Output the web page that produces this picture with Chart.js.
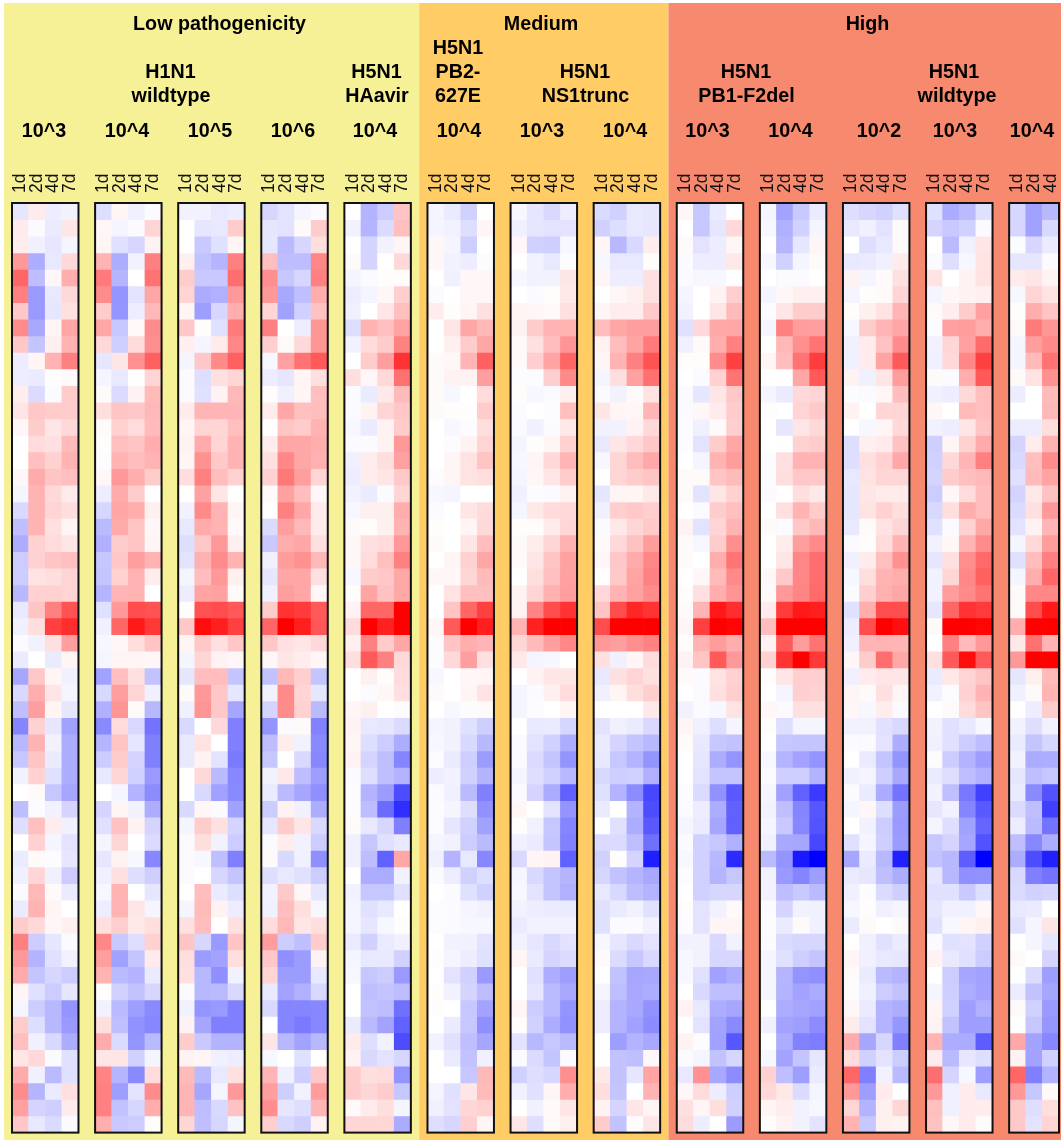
<!DOCTYPE html>
<html>
<head>
<meta charset="utf-8">
<style>html,body{margin:0;padding:0;background:#fff}canvas{position:absolute;left:0;top:0}</style>
<script src="https://cdn.jsdelivr.net/npm/chart.js@4/dist/chart.umd.min.js"></script>
</head>
<body>
<canvas id="c" width="1061" height="1140"></canvas>
<script>
// Cell values in tenths of full colour saturation: -10 full blue, 0 white, +10 full red.
const timepoints = ["1d","2d","4d","7d"];
const timepointsLast = ["1d","2d","4d"];
const rowCount = 56;

const H1N1_wt_1e3 = [[-1,.8,-.7,-.5],[.8,-.2,-.8,1],[.7,-.6,-1,-.4],[4,-3.2,-.9,1.5],[6,-2.6,.3,3.2],[5,-4,-.9,1.5],[2.2,-4,-1,1.2],[4.5,-3.4,.4,3.5],[2.2,-2.3,.6,3],[-.7,.4,3,5],[-.7,-.8,.1,.2],[.7,-1.4,-.2,2],[1,2.2,2,2],[.3,2,1,1.5],[0,1.4,1.2,2.7],[0,2.5,1.8,3],[.3,3.3,2.3,2.5],[-.4,3,1.5,.8],[-1.5,3,1.7,1.3],[-2.5,3,1.2,.4],[-3.2,1.8,1.4,1],[-2,1.8,2.3,2.5],[-2,1.1,1.3,1.7],[-2.8,1.8,1.8,1.7],[-.9,2.3,5,6.8],[-.6,1.3,7.5,8.2],[-.2,-.5,1.2,3.8],[-.8,0,-.8,.4],[-3.5,2.2,.4,-.6],[-1.5,3.2,1,-.4],[-2.5,3.8,.4,-1],[-4.8,1.8,-1,-3.7],[-2.8,3,-.5,-3.2],[-2.2,2.3,-.8,-3.2],[-.5,1.8,-1.2,-3.2],[0,.2,-2.2,-3.5],[-2.6,-.1,-.5,-1.7],[-1.3,2.5,.7,-.6],[0,1.8,-.4,-1.1],[-.8,.2,-.1,-1],[-.6,1.6,-.6,-2],[-.2,2.8,.2,-.8],[-.8,3,.4,0],[2,1.5,.3,.6],[5,-2,-1,-.2],[4,-3,-1.2,-.5],[3.3,-2.3,-1.6,-2],[.4,-1.2,-2,-1],[-.4,-2,-2.8,-4.2],[2,-1.3,-2.8,-4],[2.5,-.6,-1.5,-3.2],[1,1.5,-.2,-1.2],[3.3,-.6,-2.7,-1.2],[4.5,-2.9,-.8,1.2],[3.7,-1.7,-1.9,.8],[2.2,-.9,-1.4,-.2]];
const H1N1_wt_1e4 = [[-1.3,.4,-.6,-.2],[.3,-.4,-.2,1.7],[.4,-1.2,-1.6,.5],[3,-3.2,-.5,5],[5.2,-2.9,0,5.5],[4.5,-4.2,-1.1,3.5],[2,-4.1,-.7,2.8],[3.5,-2.2,.2,4.5],[1.5,-1.9,1.4,4.4],[-1,1,4.3,6.2],[-.4,-.9,0,1.7],[.2,-1.4,.5,2.7],[1.3,2.3,2.2,2.8],[.2,1.8,1.4,2.7],[.1,2.5,2.3,3.2],[-.1,3,2.6,3],[.3,4,3.2,2],[-.7,3.3,2,0],[-1.6,3.5,3.2,.6],[-2.7,3.3,2.3,.3],[-3.1,2,2.3,.4],[-2.2,2.2,3.8,3],[-2.3,1.8,3,.7],[-2.9,2.9,3,0],[-1.2,4,7,6.8],[-.6,6,9,7.8],[-.3,.3,1.3,2.3],[-.4,.4,.4,.3],[-3.7,2.5,1.2,-2.4],[-1.5,3.8,1.7,-.6],[-3.1,4.2,.2,-2.8],[-4.6,1.4,-1.5,-5.5],[-2.9,2.3,-1,-5],[-2,2,-1.7,-5],[-.9,1.6,-1.8,-4],[0,-.4,-3,-4.5],[-1.7,.4,-.5,-3.2],[-1.2,2.4,.5,-1.7],[-.4,1.6,0,-1.4],[-1,.5,-.3,-4.7],[-.6,1.2,-1.3,-1.9],[-.3,3,0,-1],[-.7,3,1,-.4],[1.3,1.9,.9,1.3],[4.7,-2.1,-1.3,1.8],[3.8,-3.7,-2.3,.8],[3,-2.7,-3,-.8],[.1,-1.8,-2.4,-1.6],[-.5,-2.7,-3.8,-4.6],[1.3,-2.5,-4.3,-4.7],[3.3,-1.4,-4.2,-2.7],[1,1,-1.8,-.4],[4.8,-2.9,-4.6,1.4],[5,-3.8,-1.1,4.5],[5,-2.4,-1.6,3.2],[3.2,-2.1,-2,.1]];
const H1N1_wt_1e5 = [[-.5,-.5,-.9,-.7],[0,-1,-.9,2],[0,-2.1,-1.2,.4],[.6,-2.4,-2.9,5],[2,-2.1,-2.1,5.7],[1.7,-3.3,-3.1,4],[.4,-3.8,-1.6,3.2],[2.2,.1,-1.2,5.2],[.6,-.4,.8,4.7],[-.4,2.2,4.6,6.2],[-.2,-1.3,1.2,1.6],[-.2,-1.2,.5,2.8],[.8,2.9,2.9,2.9],[.4,1.7,1.6,2.5],[.5,3.3,1.7,3],[.4,4.3,2.1,3],[1.3,5,2.6,1.8],[0,3.7,1,0],[-.5,4.6,3,.4],[-.9,3.3,3,.2],[-1.3,2.2,4,.6],[-1.1,3.1,4.5,3],[-.4,2.6,4,.6],[-.7,3.6,3.7,.2],[.1,6.8,7,6.5],[2.2,9.5,8.8,7.5],[.4,2.2,1.2,2.2],[-.4,1.6,.5,.3],[-1,2.6,2.6,-2.3],[.2,4,2.2,-1],[-.6,4.2,2.2,-3.5],[-1.5,0,1.5,-5],[-.9,1.1,0,-5],[-.9,.5,-1.1,-5.2],[0,1.5,-2.7,-4.7],[0,-1.5,-3.7,-4.6],[-1.5,.3,-.2,-3.7],[-.4,2,1.2,-1.7],[-.2,1.3,-.5,-2],[-.2,-.3,-2.5,-5],[-.2,0,-1.6,-2.3],[0,2.6,-.8,-1.3],[-.4,2.7,.5,-.7],[1.2,2.6,0,1.2],[2.3,-1.6,-4,2.3],[1.3,-3.9,-3.6,1.3],[1.2,-2.8,-4.4,-.5],[-.2,-2.8,-2.7,-1.5],[-.5,-4.2,-4,-5],[.5,-3.5,-5,-5],[2,-2.1,-3,-3],[.5,.4,-.6,-.7],[2.7,-2.7,-.9,1.2],[2.9,-3.5,-.4,4],[2.9,-2.6,-1.5,2.4],[1.6,-2.5,-1.6,-.4]];
const H1N1_wt_1e6 = [[-1.6,-1.1,-.4,-.2],[-1,-1.1,.2,2],[-1,-2.7,-1.6,1.3],[2.5,-2.6,-2.6,4.7],[4.4,-2.2,-1.6,5],[4,-3.4,-2.5,3.2],[1.6,-3.7,-1.8,2.4],[5,0,-.7,4.1],[1.9,.2,1.5,4.2],[-.3,3.7,5.5,6.5],[-.7,-1,.4,1.2],[.1,-.6,.4,2.5],[.7,3.5,2.5,2.6],[0,2.3,2,3],[.7,3.5,3.5,3.2],[1.2,4.7,3.5,3.1],[1.8,5.3,3.8,1.7],[.2,3.7,2.6,.3],[0,5,3.5,.8],[-1.4,3.8,2.8,.8],[-2.1,3.2,3.5,1.2],[-.6,3.9,4.3,2.8],[-1,3.5,3.5,1.2],[-.6,3.8,3.5,.3],[2,8,7.7,6.5],[6,10,8.8,6.6],[2.2,1.2,1,1.5],[.3,1,.7,.3],[-2.4,2.8,1.9,-2.3],[-.5,4.6,1.7,-1],[-1.7,4.5,1.8,-2.7],[-4.2,-.2,.2,-4.9],[-2.6,.7,-.5,-4.6],[-2.2,0,-1.5,-4.7],[-.5,.9,-2.6,-3.8],[-.8,-2.7,-3.5,-4.4],[-2,.5,-.6,-3.2],[-1,2,1,-1.5],[-.2,.7,-.5,-2],[.2,-1.5,-.6,-4.4],[-1.3,-.9,-1.2,-2],[-.5,2.1,.3,-1],[-.6,2.6,1.3,-.3],[1.4,2.8,1,1.3],[3.9,-2,-2.5,2],[2.2,-4.4,-3.9,.5],[1.7,-3.9,-3.9,-.9],[-.9,-3.6,-3.1,-1.5],[-1.5,-4.8,-4.8,-4.7],[0,-4.8,-5.2,-4.7],[1,-2.8,-3.6,-2.8],[-.3,0,-1.2,0],[2.9,-.6,-1.9,2.2],[3.8,-1.9,-.5,3.9],[4.4,-1,-1.3,2.9],[1.9,-1.5,-1.9,.5]];
const H5N1_HAavir_1e4 = [[0,-3,-2,2.3],[-.5,-2.9,-1.4,2.5],[0,-1.7,-.5,.4],[.2,-1.7,0,1.5],[-.4,-.2,.1,.1],[-.7,-.4,.3,1.9],[-.6,0,1,2.5],[-1.3,3,2.5,3.6],[-.5,1.4,2,4.9],[0,2,3.8,8],[1.3,.3,1.5,5.6],[-.2,-.8,.9,2.7],[-.2,.5,1.7,2.2],[-.3,-.8,.5,2],[-.2,-.2,.5,4],[-.6,.7,1.3,3.7],[-.7,.7,1,2.1],[-.5,-.8,-.2,1.6],[-.3,.6,.6,3.2],[.2,.1,.6,3],[.3,1.2,1.4,4],[.3,1.4,2.5,5],[-.3,2,2.2,3.4],[.1,3.6,2.4,3.4],[.5,6,6,10],[1.4,10,8.7,10],[.6,5,2,3.5],[1.3,6.5,5,1.5],[0,.6,.1,1.4],[0,-.2,.3,1.2],[.4,.6,0,-.1],[.5,-.9,-1,-1.4],[.4,-1.3,-2,-3.2],[.5,-1.7,-2.5,-4.8],[-.2,-1.3,-2.5,-3],[-.1,-3,-3.9,-7],[-.1,-2.6,-5.8,-8.2],[.2,-.9,-1.6,-5],[-.6,-2.2,-1.2,-.9],[-.6,-2.6,-6.2,3.5],[0,-3.2,-3.3,-.5],[-.5,-2.2,-2.2,-1.2],[-.4,-1.2,-.9,0],[-.4,-1,-.3,.1],[-.8,-1.8,-.8,-.6],[-.4,-.9,-.9,-1.8],[-.3,-2.2,-2,-4],[0,-2.5,-2.3,-2.6],[0,-2.4,-2.6,-5.6],[-.8,-2.7,-3.6,-6.2],[.8,-1.3,-.5,-7],[.5,-1.5,-1.1,-1.6],[2,1.3,1.4,-4.2],[2,1.6,2,-2.2],[.2,.8,1.3,-.4],[1.6,1.6,1.6,-3.3]];
const H5N1_PB2_1e4 = [[-.4,-.8,-1.8,0],[-.4,-.5,-1.3,.4],[.3,-.4,-1.9,0],[.3,-.5,-.7,-.1],[0,-.6,.3,.3],[-.2,0,.3,.3],[.7,.1,.4,1.2],[0,1,3.5,2.8],[0,.6,2,3.5],[.2,.3,2.9,6.2],[.2,.5,.5,3.8],[.2,-.3,0,1.4],[.2,.1,.1,2],[0,-.3,-.1,1.3],[0,-.1,.5,1.7],[0,.4,1.1,2.3],[-.1,.4,1.1,1.3],[-.3,-.4,0,0],[-.2,0,1,1.4],[.1,0,.4,1.5],[.2,0,1,2.6],[0,.4,1.8,3.5],[.3,.3,1.6,2.7],[0,1.1,2.5,2.5],[0,2.3,6,7.5],[.3,6.5,10,8.8],[-.1,2.3,3.2,2.9],[-.1,1.5,3.8,1.2],[-.3,0,.3,.4],[.2,0,.4,1.1],[0,-.3,-.1,.2],[-.4,-.5,-1.2,-1.9],[-.3,-.5,-1.5,-2.8],[-.1,-.8,-1.9,-3.9],[-.7,-.5,-1.8,-3],[-.2,-.6,-2.7,-5],[-.1,-.4,-1.3,-4.3],[-.1,-1,-1.8,-3.7],[-.4,-.5,-2,-2.7],[-.6,-3,-.9,-4.7],[-.2,-.7,-1.8,-1.3],[0,-.2,-1.2,-1.8],[-.1,-.2,-.4,-.5],[-.1,-.2,-.3,-.3],[0,-.5,-.6,-1.1],[.1,-.4,-.7,-1.2],[0,-1.1,-1.8,-4],[.1,-.5,-1.7,-2.6],[.1,0,-2.2,-3.6],[0,-.8,-2.2,-4.4],[-.5,-1.2,-2.5,-3.5],[0,-.8,-2.4,-.6],[0,0,-2.2,2.8],[-.4,-1.2,1,2.7],[-.6,-1.1,1.6,1.8],[-1.3,-1.6,1.9,.4]];
const H5N1_NS1_1e3 = [[-.3,-1,-1.5,-.7],[-.6,-1,-1.1,-1.1],[.3,-1.8,-1.9,-.3],[0,-.5,-.9,-.1],[-.3,-.5,-.5,1],[0,-.2,.1,.9],[.4,.3,.2,1.2],[.5,2,3,3],[.2,1.2,2.6,4.2],[.2,1.9,3.6,6],[-.1,-.1,1.9,4.6],[.1,-.3,-.2,.6],[-.2,0,-.1,2.5],[-.2,-.6,-.2,.9],[-.4,.1,.4,1.8],[-.3,.4,1.5,2.9],[-.4,.3,1,2],[-.6,-.1,-.2,.5],[-.4,.9,1.4,1.5],[.1,.1,.8,1.6],[.2,.7,1.6,3.1],[.2,1,2.3,3.7],[0,1.3,2.5,3.7],[.5,1.7,3.1,3.8],[.5,4.8,7,8],[3,8.7,10,10],[1.6,2.7,3.8,4.7],[.9,-.4,-.3,0],[0,.5,1,1],[-.4,-.2,.6,1.4],[-.4,-.1,0,.4],[0,-.9,-.8,-1.6],[-.2,-1.1,-1.8,-3.2],[-.2,-1.4,-2.3,-4.2],[-.4,-1.3,-1.8,-2.8],[-.2,-1.7,-3.3,-6.2],[.4,0,-1.1,-4.2],[.1,-.5,-2.2,-4.8],[-.6,-.8,-2.3,-4.9],[-1.5,.4,.5,-6.2],[-.4,-1.5,-2.3,-2.9],[-.3,-1.1,-2.3,-3.1],[-.5,-.7,-.8,-.8],[-.8,-.5,-.5,-.5],[-.5,-1,-1.5,-1.1],[.4,-.8,-1.7,-1.4],[0,-1.2,-3.2,-3.8],[0,-1,-2.7,-3.4],[.4,-2,-2.7,-4.2],[.1,-1.8,-3.2,-4.3],[-1.1,-2.8,-2.2,-2.7],[-.2,-1.4,-2.3,-.2],[-1.8,-1.3,-1.6,4.4],[-.6,-1.2,.4,3.2],[0,-.6,.2,1],[1,-1.3,.2,.6]];
const H5N1_NS1_1e4 = [[-1.4,-1.8,-.9,-1],[-1.8,-1.3,-.9,-1],[.4,-2.8,-1.5,.7],[-.3,-.9,-.9,.1],[.4,-.7,-.7,1.2],[0,.3,.6,1.2],[.4,.7,.7,2.1],[2.6,3.5,3.8,3.8],[.5,2.6,3.6,5.2],[.4,3,5,6.8],[-.4,1.3,3.7,5.6],[-.2,-.5,.2,1.1],[1,.4,.3,2.9],[-.5,-.5,.5,1.5],[-.9,1,1.5,2.2],[-.3,1.6,2.6,3.4],[0,1.6,2,2.3],[-1,.4,.4,.9],[-.6,1.9,2.1,1.9],[-.2,.9,1.6,2.1],[.2,1.5,2.4,3.9],[.3,2.2,3.3,4.7],[0,2.1,3.6,4.9],[1.5,3,3.7,4.5],[2.3,7,8.5,8],[7,10,10,10],[4,3.8,4.4,4.9],[1.2,-.6,.4,1.4],[-.9,1.2,1.7,1.2],[-.6,.4,1.3,1.9],[0,0,0,.9],[-1.1,-.6,-.8,-1.5],[-.8,-1.7,-2.3,-2.8],[-.9,-2.2,-3,-4.2],[-1.5,-1.9,-1.8,-3.1],[-1.2,-3,-4.5,-7.2],[-.8,0,-3,-7],[0,-1.2,-3.2,-6.5],[-1.4,-1.4,-2.5,-5.6],[-1.8,.1,-1.7,-8.8],[-1.6,-2.4,-2.9,-3.4],[-.9,-1.5,-2.6,-3],[-1.2,-.8,-.5,-1.2],[-1.2,-.2,-.2,-.5],[-.3,-1,-1.5,-1.1],[.2,-1.4,-2.2,-1.5],[0,-2.4,-3.5,-3.4],[-.4,-2.5,-3.4,-3.2],[-.7,-3,-3.4,-4.3],[-.7,-3,-3.7,-4.5],[0,-3.8,-3,-3.4],[0,-2.4,-2.5,.3],[.9,-2.4,-1,3.6],[1.3,-2.3,0,3],[.5,-1.7,1,.4],[2,-2.4,.1,1]];
const H5N1_PB1_1e3 = [[.3,-2.2,-.8,0],[0,-2.2,-1,1.5],[.2,-1.1,-.7,.3],[-.2,-.7,-.7,.9],[-.2,-.3,-.3,0],[-.4,0,.5,1.9],[-.5,0,1,2.7],[-1.2,1.5,3.4,3.5],[-.6,.2,3.2,5],[.1,.1,4.5,7.5],[0,-.2,1.8,5.5],[-.2,-1,1,2.2],[-.2,.3,.8,2],[-.1,-.6,.2,1.9],[-.1,-1.1,2,3.5],[0,-.4,3,3.9],[.2,.2,2.3,2.7],[.2,-1.1,1,1.8],[0,-.2,2,2.5],[.5,-1.1,1.7,3],[.2,-.3,2,4.4],[.2,0,3.2,5.4],[0,.3,2.7,4.6],[.1,1.2,3.2,4.2],[.2,3,9,8.2],[.4,7.5,10,9.8],[.1,3,3.9,3.2],[.5,2.3,6.5,4],[.2,-.2,1.1,1.8],[0,-.2,1.2,1.9],[-.5,-.2,-.3,1.1],[.4,-.6,-1.3,-.4],[.2,-.9,-2.2,-2.4],[0,-1,-3.2,-4.2],[0,-1.1,-2.3,-2.3],[-.1,-1.4,-4.3,-6.5],[-.2,-.7,-3.2,-6.2],[-.4,-.8,-3.5,-6.2],[-.2,-1.8,-2.2,-3.1],[-.3,-1.8,-2.8,-8.3],[-.1,-1.8,-2.9,-2.2],[0,-1.8,-1.6,-1.6],[.1,-1.1,-.5,.2],[-.1,-1.1,.4,.4],[-.5,-.5,-1.5,-.5],[-.3,-.5,-1.6,-1.6],[-.3,-1.2,-3.7,-3.2],[0,-1.5,-2.5,-2.5],[.5,-.9,-3.2,-3.5],[0,-1.1,-3.6,-4.6],[.5,-.1,-3.7,-6.6],[-.2,-.4,-2.4,-1.6],[-.9,4.3,-3.4,-4.5],[.3,1.4,-.7,-1.9],[1.2,.4,1.3,-1.8],[1.4,-.7,0,-3.9]];
const H5N1_PB1_1e4 = [[-.4,-3.6,-2.1,-.8],[-.3,-3.1,-1.8,-.4],[0,-2.9,-1,.4],[-.3,-1.8,-.4,.2],[0,-.2,-.2,0],[-.4,.3,.6,.6],[-.1,1,2,2],[-.4,5,3.9,3.8],[0,2.8,4.4,5.5],[.4,2.6,5.5,7.6],[0,0,3.5,6.5],[-.4,-.8,1.5,1.7],[.1,0,1.7,2.1],[0,-1,1,1.5],[0,0,1.8,2],[-.1,1.2,3,3],[-.1,1.3,2.2,2.2],[-.2,0,1.3,.9],[0,1.2,3,2],[.2,-.1,2.2,2.8],[0,.7,3.8,4.6],[0,1,4.7,5.7],[.3,2.1,4.7,5.7],[.2,4,4.8,5.8],[.8,7.7,9,8.8],[2.6,10,10,10],[.5,6.5,3.9,5.5],[1.8,8,10,7.8],[.1,1,1.9,1.9],[0,-.4,1.9,1.8],[.3,-.2,1.2,1.2],[.1,-1.3,-.4,-.4],[0,-2.2,-2.3,-2.3],[-.3,-2.9,-3.6,-4.2],[-.2,-1.9,-1.9,-3],[-.4,-3.7,-6.2,-7.7],[-.5,-2.5,-4.8,-6.6],[-.4,-2.1,-4.7,-6.7],[-.6,-3.4,-3.5,-7.2],[-2.7,-4.2,-9,-10],[-.5,-4,-4.8,-3.8],[-.5,-2.6,-2.1,-2.7],[-.2,-1.7,-.5,-.6],[-.1,-.8,.2,-.6],[-.2,-1.4,-1.6,-1.6],[-.4,-1.2,-1.9,-2.3],[-.4,-2.9,-4.2,-4.4],[-.4,-3,-3.6,-3.3],[0,-3.2,-3.5,-3.7],[-.6,-3.6,-3.8,-4.5],[0,-3.2,-4.9,-5.1],[-.3,-3.6,-2.3,-1],[1.8,-2.5,-3.8,-.8],[1.5,.9,-1.4,-.4],[.4,.7,-.5,-.3],[.1,.5,-.5,-1.1]];
const H5N1_wt_1e2 = [[-1.3,-1.6,-1.8,-1.2],[-.9,-.6,-1.1,.2],[0,-1.3,-.9,.2],[-.9,-.8,-.6,.8],[.5,-.4,.2,1.2],[-.4,.1,.2,1.7],[.1,.6,1.1,2.9],[-.3,2,2.9,3.5],[-.6,.8,2.4,4.5],[-.6,.8,3.6,6.5],[.5,-.6,1,3.9],[-.1,-.2,.3,2.6],[.5,0,1.6,1.7],[0,-.3,.4,1.5],[-1.3,.6,.8,2.4],[-1.3,1.2,1.8,3.4],[-.9,1.1,1.6,1.6],[-1,1,.8,.8],[-1,1.1,1.8,1.3],[-.9,.2,1.1,1.7],[-.2,.1,1.4,3],[-.6,.8,2.5,4.3],[-.3,1.3,3,3.2],[-.2,1.9,3.1,3.5],[-1.2,3.2,7,7],[-.7,7,10,9.4],[-.6,2.9,3,2.9],[.3,2,5.7,3.4],[-.6,.8,1,1],[.4,.2,1.2,.4],[.3,-.3,.7,-.2],[-.5,-.5,-1.2,-1.5],[-.2,-.2,-1.1,-3.2],[0,-.8,-2.3,-4.2],[-.6,-.4,-1.9,-3.4],[-.2,-.8,-3.3,-5.5],[-.4,.3,-1.3,-3.9],[0,-.5,-2,-4],[-1.2,-.4,-1.9,-3.9],[-3.5,-.8,-2.8,-8.7],[-.8,-1,-2.5,-3.2],[-.6,-.1,-1.4,-1.9],[-.3,.1,-.6,-.4],[-.8,.2,0,.2],[0,-.6,-1.2,-.8],[.4,-.6,-.9,-1],[.2,-.8,-2.7,-3],[-.1,-.6,-2,-2.4],[.3,-.8,-3,-3.2],[.8,-1.1,-3,-4.1],[3.3,-3.5,-1.6,-5],[1.4,-1.8,-1.1,-2],[6,-5,-.5,-2.7],[4,-3.8,.8,0],[1.7,-3,.6,1.6],[3,-2.2,.6,.5]];
const H5N1_wt_1e3 = [[-1.2,-3.3,-2.7,-1.2],[-1.7,-2.1,-1.8,-.2],[0,-2.7,-.6,1],[-.2,-1.3,-.3,1.1],[1.1,0,.5,1.1],[-.4,.3,.5,.6],[.2,.7,2,3.7],[-.1,3.7,3.9,3.2],[-.5,1.6,3.7,5.8],[-.6,1.5,4.7,7.5],[.2,-.2,3.2,6.5],[-.6,-.7,1.5,2.5],[.3,0,2.7,2.5],[-.5,-.7,1,2.3],[-1.9,.4,1.8,3.3],[-1.8,1.5,2.9,5],[-1.7,2,2.5,2.8],[-2,.3,1.4,2.6],[-1.5,1.3,3.2,2.6],[-1.2,-.2,1.8,3.4],[-.5,.3,3,4.5],[-1,1.2,4.4,5.9],[-.5,1.6,4.7,6.2],[-.5,3.9,4.6,5.5],[-1,6,8,7.7],[.2,10,10,9.8],[0,5,2.7,4],[1.2,6.5,9.5,6.5],[-.8,.9,1.7,2.3],[-.5,-.1,1.8,3],[0,.2,1.4,2.3],[-.5,-1.2,-.9,-.3],[-.6,-1.2,-2,-2.6],[-.1,-2,-3,-3.8],[-.8,-1.3,-2.5,-3.1],[-.5,-2.5,-5.3,-7.5],[-1,-.5,-4.8,-6.5],[-.4,-1.3,-3.7,-6],[-2.2,-1.7,-3.5,-6.8],[-2.4,-2.8,-6.3,-10],[-1,-2.8,-4.4,-4.3],[-1.2,-1.2,-2.1,-1.3],[-1,-.6,-.6,.3],[-1.2,-.3,.4,.6],[-.2,-1.2,-1.1,-1.8],[.5,-.9,-1.2,-2],[0,-2,-3.5,-3.7],[-.4,-1.9,-3.2,-3.6],[.4,-1.8,-3.8,-3.1],[.5,-2.4,-3.8,-3.8],[3,-3.2,-3.3,-6.4],[.8,-2.7,-1,-1.3],[5.7,-1.7,-.3,-3.8],[4,-.6,.8,-.9],[2.5,-.6,.8,.7],[2.4,.3,.8,-.1]];
const H5N1_wt_1e4 = [[-1.6,-3.7,-2.8],[-1.6,-3.7,-1.5],[-.1,-1.6,-.8],[-1,-1,-.2],[.8,1,.5],[-.3,1.7,1.1],[.1,3.2,2.3],[.2,5.2,4.1],[-.4,3.8,4.6],[-.4,2.7,5.5],[.2,1.1,4.3],[-.7,0,2.7],[0,0,2.8],[-.7,-.7,1.3],[-1.7,.7,3],[-1.5,2.5,4.5],[-1.2,2.7,3.6],[-1.7,.9,2.4],[-1.4,1.2,4],[-1.1,.5,2.9],[-.4,1.5,3.9],[-1.2,2.6,5],[-.4,3.2,6],[.2,4.7,4.7],[.2,7,9],[3.2,10,10],[.9,5.6,3],[4,10,10],[-1,.6,2.7],[-.6,.2,3],[0,-.7,2],[-.5,-1.3,-.5],[-.8,-2.3,-1.6],[-.5,-3.3,-3.2],[-1,-2.5,-2.2],[-.8,-4.6,-6.8],[-1.4,-2.5,-7.5],[-.7,-2.7,-5.5],[-2.5,-4.7,-3.2],[-3.2,-7,-8.7],[-1.5,-5,-5.5],[-1.4,-1.8,-1.7],[-.9,-.8,0],[-1.2,-.4,1],[0,-.4,-1],[.2,0,-1.7],[0,-1.4,-3.8],[-.7,-2.4,-3.5],[.2,-1.8,-4],[0,-2.2,-4.1],[3.4,-3.6,-4.7],[.5,-3.6,-1.8],[6,-5,-3],[4,-2.2,.2],[2.1,-1.3,1.3],[2.1,-1.1,1.7]];

const panels = [H1N1_wt_1e3,H1N1_wt_1e4,H1N1_wt_1e5,H1N1_wt_1e6,H5N1_HAavir_1e4,H5N1_PB2_1e4,H5N1_NS1_1e3,H5N1_NS1_1e4,H5N1_PB1_1e3,H5N1_PB1_1e4,H5N1_wt_1e2,H5N1_wt_1e3,H5N1_wt_1e4];

// Tier labels and page layout
const groups = [
  {name:"Low pathogenicity", lastPanel:4,  color:"#F6F197", labelX:219.5},
  {name:"Medium",            lastPanel:7,  color:"#FFCC66", labelX:541},
  {name:"High",              lastPanel:12, color:"#F78A6E", labelX:867.5}
];
const strains = [
  {lines:["H1N1","wildtype"], x:[170.5,171]},
  {lines:["H5N1","HAavir"], x:[376.5,377]},
  {lines:["H5N1","PB2-","627E"], x:[458,458,458]},
  {lines:["H5N1","NS1trunc"], x:[585,585.5]},
  {lines:["H5N1","PB1-F2del"], x:[746,746.5]},
  {lines:["H5N1","wildtype"], x:[954,957]}
];
const doses = ["10^3","10^4","10^5","10^6","10^4","10^4","10^3","10^4","10^3","10^4","10^2","10^3","10^4"];
const doseX = [44,127,210,293,375,459,542,625,707.5,790.5,879,955,1032];

const GAP_COLS = 1;
const labels = [];
const panelStart = [];
panels.forEach((p,i)=>{
  panelStart.push(labels.length);
  labels.push(...(p[0].length===4 ? timepoints : timepointsLast));
  if(i<panels.length-1) for(let g=0;g<GAP_COLS;g++) labels.push("");
});

function cellColor(v){
  if(v==null) return "rgba(0,0,0,0)";
  const c = Math.round(255*(1-Math.min(1,Math.abs(v)/10)));
  return v>=0 ? `rgb(255,${c},${c})` : `rgb(${c},${c},255)`;
}

const datasets = [];
for(let r=0;r<rowCount;r++){
  const colors = new Array(labels.length).fill(null);
  const data = new Array(labels.length).fill(null);
  panels.forEach((p,i)=>{
    p[r].forEach((v,c)=>{
      colors[panelStart[i]+c]=cellColor(v);
      data[panelStart[i]+c]=1;
    });
  });
  datasets.push({label:"row "+(r+1), data, backgroundColor:colors, borderWidth:0, barPercentage:1, categoryPercentage:1, stack:"s"});
}

const FONT = '"Liberation Sans", Arial, sans-serif';
const TICK_SIZE = 17.5;
const decor = {
  id:"decor",
  beforeDraw(chart){
    const ctx=chart.ctx, x=chart.scales.x;
    let left=4;
    ctx.save();
    groups.forEach((g,i)=>{
      const right = i===groups.length-1 ? chart.width : x.getPixelForValue(panelStart[g.lastPanel]+panels[g.lastPanel][0].length);
      ctx.fillStyle=g.color;
      ctx.fillRect(left,3,right-left,chart.height-3);
      left=right;
    });
    ctx.fillStyle="#000";
    ctx.textAlign="center";ctx.textBaseline="middle";
    ctx.font=`bold 19.7px ${FONT}`;
    groups.forEach(g=>ctx.fillText(g.name,g.labelX,24.5));
    strains.forEach(s=>{
      const base = 96.5-(s.lines.length-1)*24;
      s.lines.forEach((t,i)=>ctx.fillText(t,s.x[i],base+i*24));
    });
    doses.forEach((d,i)=>ctx.fillText(d,doseX[i],131.5));
    ctx.restore();
  },
  afterDatasetsDraw(chart){
    const ctx=chart.ctx, x=chart.scales.x, a=chart.chartArea;
    const w=x.getPixelForValue(1)-x.getPixelForValue(0);
    ctx.save();
    ctx.strokeStyle="#111";ctx.lineWidth=2;
    panels.forEach((p,i)=>{
      const l=x.getPixelForValue(panelStart[i])-w/2;
      ctx.strokeRect(l,a.top,w*p[0].length,a.bottom-a.top);
    });
    ctx.restore();
  }
};

new Chart(document.getElementById("c"),{
  type:"bar",
  data:{labels,datasets},
  plugins:[decor],
  options:{
    responsive:false,animation:false,
    layout:{padding:{left:12,right:2,top:0,bottom:7.4}},
    plugins:{legend:{display:false},tooltip:{enabled:false},title:{display:false}},
    scales:{
      x:{position:"top",stacked:true,grid:{display:false,drawTicks:false},border:{display:false},
         afterFit(s){s.height=203;s.paddingLeft=0;s.paddingRight=0;},
         ticks:{autoSkip:false,minRotation:90,maxRotation:90,padding:10,labelOffset:TICK_SIZE,color:"#111",font:{family:FONT,size:TICK_SIZE,lineHeight:1}}},
      y:{display:false,stacked:true,reverse:true,min:0,max:rowCount,grid:{display:false}}
    }
  }
});
</script>
</body>
</html>
